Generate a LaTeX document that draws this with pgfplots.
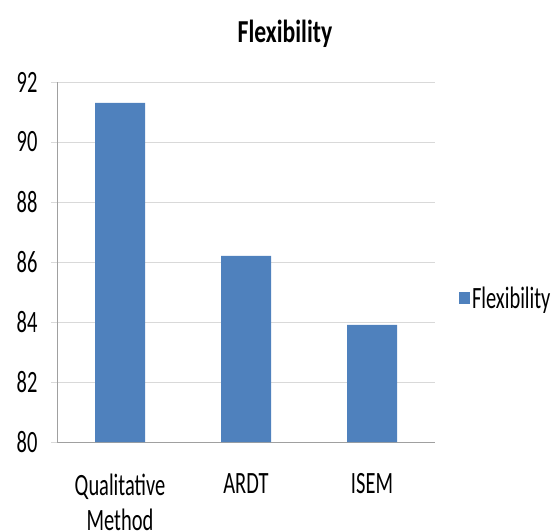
\documentclass[border=0pt]{standalone}
\usepackage{fontspec}
\setmainfont[FakeStretch=0.66]{Carlito}
\newfontfamily\titlefont[FakeStretch=0.74]{Carlito}
\usepackage{pgfplots}
\pgfplotsset{compat=1.18}
\definecolor{barblue}{RGB}{79,129,189}
\definecolor{gridgray}{RGB}{217,217,217}
\definecolor{axgray}{RGB}{160,160,160}
\begin{document}
\begin{tikzpicture}[x=1pt,y=1pt]
\useasboundingbox (0,0) rectangle (559,530);
\node[font=\titlefont\fontsize{32}{34}\selectfont\bfseries] at (285,496) {Flexibility};
\begin{axis}[
  at={(57pt,88pt)}, anchor=south west,
  scale only axis, width=378pt, height=360pt,
  xmin=-0.5, xmax=2.5, ymin=80, ymax=92,
  ytick={80,82,...,92},
  xtick={0,1,2},
  xticklabels={{Qualitative\\Method},ARDT,ISEM},
  extra x ticks={-0.5,0.5,1.5,2.5},
  extra x tick labels={},
  extra x tick style={major tick length=7pt, tick style={axgray, line width=0.8pt}, tick align=outside},
  major x tick style={draw=none},
  axis x line*=bottom, axis y line*=left,
  axis line style={axgray, line width=0.8pt, -},
  ymajorgrids, grid style={gridgray, line width=0.8pt},
  ytick style={gridgray, line width=0.8pt}, major tick length=6pt, tick align=outside,
  /pgf/number format/assume math mode=true,
  ticklabel style={font=\fontsize{31}{35}\selectfont},
  x tick label style={align=center, yshift=-22pt},
  y tick label style={xshift=-10pt},
  ybar, bar width=50pt,
  legend style={at={(1.063,0.4)}, anchor=west, draw=none, fill=none, font=\fontsize{31}{33}\selectfont, inner sep=0pt},
  legend image code/.code={\fill[barblue] (-3pt,-6pt) rectangle (8pt,6pt);},
]
\addplot[fill=barblue, draw=none] coordinates {(0,91.3) (1,86.2) (2,83.9)};
\addlegendentry{Flexibility}
\end{axis}
\end{tikzpicture}
\end{document}
